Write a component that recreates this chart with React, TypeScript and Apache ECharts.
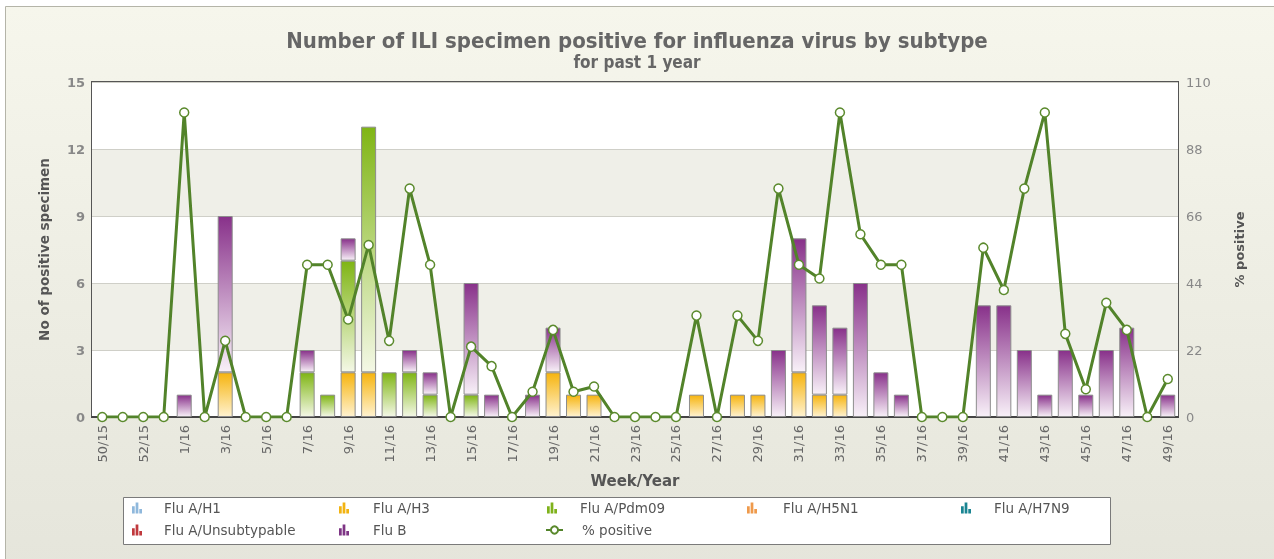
import React, { useEffect, useRef } from "react";
import * as echarts from "echarts";

const weeks = [
  "50/15", "51/15", "52/15", "53/15",
  "1/16", "2/16", "3/16", "4/16", "5/16", "6/16", "7/16", "8/16", "9/16", "10/16",
  "11/16", "12/16", "13/16", "14/16", "15/16", "16/16", "17/16", "18/16", "19/16", "20/16",
  "21/16", "22/16", "23/16", "24/16", "25/16", "26/16", "27/16", "28/16", "29/16", "30/16",
  "31/16", "32/16", "33/16", "34/16", "35/16", "36/16", "37/16", "38/16", "39/16", "40/16",
  "41/16", "42/16", "43/16", "44/16", "45/16", "46/16", "47/16", "48/16", "49/16",
];

const fluH1 = [
  0, 0, 0, 0, 0, 0, 0, 0, 0, 0, 0, 0, 0, 0, 0, 0, 0, 0, 0, 0, 0, 0, 0, 0, 0, 0, 0,
  0, 0, 0, 0, 0, 0, 0, 0, 0, 0, 0, 0, 0, 0, 0, 0, 0, 0, 0, 0, 0, 0, 0, 0, 0, 0,
];
const fluH3 = [
  0, 0, 0, 0, 0, 0, 2, 0, 0, 0, 0, 0, 2, 2, 0, 0, 0, 0, 0, 0, 0, 0, 2, 1, 1, 0, 0,
  0, 0, 1, 0, 1, 1, 0, 2, 1, 1, 0, 0, 0, 0, 0, 0, 0, 0, 0, 0, 0, 0, 0, 0, 0, 0,
];
const fluPdm09 = [
  0, 0, 0, 0, 0, 0, 0, 0, 0, 0, 2, 1, 5, 11, 2, 2, 1, 0, 1, 0, 0, 0, 0, 0, 0, 0, 0,
  0, 0, 0, 0, 0, 0, 0, 0, 0, 0, 0, 0, 0, 0, 0, 0, 0, 0, 0, 0, 0, 0, 0, 0, 0, 0,
];
const fluH5N1 = [
  0, 0, 0, 0, 0, 0, 0, 0, 0, 0, 0, 0, 0, 0, 0, 0, 0, 0, 0, 0, 0, 0, 0, 0, 0, 0, 0,
  0, 0, 0, 0, 0, 0, 0, 0, 0, 0, 0, 0, 0, 0, 0, 0, 0, 0, 0, 0, 0, 0, 0, 0, 0, 0,
];
const fluH7N9 = [
  0, 0, 0, 0, 0, 0, 0, 0, 0, 0, 0, 0, 0, 0, 0, 0, 0, 0, 0, 0, 0, 0, 0, 0, 0, 0, 0,
  0, 0, 0, 0, 0, 0, 0, 0, 0, 0, 0, 0, 0, 0, 0, 0, 0, 0, 0, 0, 0, 0, 0, 0, 0, 0,
];
const fluUnsub = [
  0, 0, 0, 0, 0, 0, 0, 0, 0, 0, 0, 0, 0, 0, 0, 0, 0, 0, 0, 0, 0, 0, 0, 0, 0, 0, 0,
  0, 0, 0, 0, 0, 0, 0, 0, 0, 0, 0, 0, 0, 0, 0, 0, 0, 0, 0, 0, 0, 0, 0, 0, 0, 0,
];
const fluB = [
  0, 0, 0, 0, 1, 0, 7, 0, 0, 0, 1, 0, 1, 0, 0, 1, 1, 0, 5, 1, 0, 1, 2, 0, 0, 0, 0,
  0, 0, 0, 0, 0, 0, 3, 6, 4, 3, 6, 2, 1, 0, 0, 0, 5, 5, 3, 1, 3, 1, 3, 4, 0, 1,
];
const pctPositive = [
  0, 0, 0, 0, 100, 0, 25, 0, 0, 0, 50, 50, 32, 56.5, 25, 75, 50, 0, 23.1, 16.7, 0, 8.3,
  28.6, 8.3, 10, 0, 0, 0, 0, 33.3, 0, 33.3, 25, 75, 50, 45.5, 100, 60, 50, 50, 0, 0, 0,
  55.6, 41.7, 75, 100, 27.3, 9.1, 37.5, 28.6, 0, 12.5,
];

const leftTicks = { min: 0, max: 15, interval: 3 };
const rightTicks = { min: 0, max: 110, interval: 22 };

const FONT = "'DejaVu Sans', Verdana, sans-serif";
const TITLE_FONT = "'DejaVu Sans Condensed', 'DejaVu Sans', sans-serif";

function grad(top: string, bottom: string) {
  return new echarts.graphic.LinearGradient(0, 0, 0, 1, [
    { offset: 0, color: top },
    { offset: 1, color: bottom },
  ]);
}

const barSeriesDefs = [
  { name: "Flu A/H1", data: fluH1, top: "#8fb8dc", bottom: "#eef5fb", solid: "#8fb8dc" },
  { name: "Flu A/H3", data: fluH3, top: "#f6b40e", bottom: "#fff2cf", solid: "#f2b311" },
  { name: "Flu A/Pdm09", data: fluPdm09, top: "#7fb514", bottom: "#f4f8e6", solid: "#7fb21b" },
  { name: "Flu A/H5N1", data: fluH5N1, top: "#ef9a4c", bottom: "#fdeedd", solid: "#ef9a4c" },
  { name: "Flu A/H7N9", data: fluH7N9, top: "#1a8592", bottom: "#d8eef0", solid: "#1a8592" },
  { name: "Flu A/Unsubtypable", data: fluUnsub, top: "#c0393d", bottom: "#f8dcdc", solid: "#c0393d" },
  { name: "Flu B", data: fluB, top: "#88318a", bottom: "#f8f0f8", solid: "#7e3585" },
];

const BAR_ICON = "path://M0,4H3V12H0Z M4,0H7V12H4Z M8,7H11V12H8Z";

const legendPos = [
  { name: "Flu A/H1", x: 132, y: 501, pad: 17 },
  { name: "Flu A/H3", x: 339, y: 501, pad: 19 },
  { name: "Flu A/Pdm09", x: 547, y: 501, pad: 18 },
  { name: "Flu A/H5N1", x: 747, y: 501, pad: 21 },
  { name: "Flu A/H7N9", x: 961, y: 501, pad: 18 },
  { name: "Flu A/Unsubtypable", x: 132, y: 523, pad: 17 },
  { name: "Flu B", x: 339, y: 523, pad: 19 },
];

export default function App() {
  const ref = useRef<HTMLDivElement>(null);

  useEffect(() => {
    if (!ref.current) return;
    const chart = echarts.init(ref.current, undefined, { renderer: "svg" });

    const barSeries = barSeriesDefs.map((d) => ({
      name: d.name,
      type: "bar",
      stack: "flu",
      yAxisIndex: 0,
      barWidth: 15,
      data: d.data.map((v) => (v === 0 ? null : v)),
      itemStyle: {
        color: grad(d.top, d.bottom),
        borderColor: "#8c8c8c",
        borderWidth: 1,
      },
      z: 2,
    }));

    const legends: any[] = legendPos.map((p) => {
      const def = barSeriesDefs.find((d) => d.name === p.name)!;
      return {
        left: p.x,
        top: p.y,
        padding: 0,
        itemWidth: 10,
        itemHeight: 11,
        itemGap: 0,
        icon: BAR_ICON,
        selectedMode: false,
        textStyle: { fontFamily: FONT, fontSize: 13.5, color: "#555", padding: [0, 0, 0, p.pad] },
        data: [{ name: p.name, icon: BAR_ICON, itemStyle: { color: def.solid, borderWidth: 0 } }],
      };
    });
    legends.push({
      left: 545,
      top: 523,
      padding: 0,
      itemWidth: 17,
      itemHeight: 9,
      itemGap: 0,
      selectedMode: false,
      textStyle: { fontFamily: FONT, fontSize: 13.5, color: "#555", padding: [0, 0, 0, 14] },
      data: [{ name: "% positive" }],
    });

    chart.setOption({
      animation: false,
      graphic: [
        {
          type: "rect",
          z: -100,
          silent: true,
          shape: { x: 5.5, y: 6.5, width: 1300, height: 600 },
          style: {
            fill: new echarts.graphic.LinearGradient(0, 0, 0, 1, [
              { offset: 0, color: "#f6f6ec" },
              { offset: 1, color: "#e4e4da" },
            ]),
            stroke: "#b4b4a8",
            lineWidth: 1,
          },
        },
        {
          type: "rect",
          z: 1,
          silent: true,
          shape: { x: 123.5, y: 497.5, width: 987, height: 47 },
          style: { fill: "#ffffff", stroke: "#7a7a7a", lineWidth: 1 },
        },
      ],
      title: [
        {
          text: "Number of ILI specimen positive for influenza virus by subtype",
          left: "center",
          top: 29,
          padding: 0,
          textStyle: { fontFamily: TITLE_FONT, fontWeight: "bold", fontSize: 22, color: "#666" },
        },
        {
          text: "for past 1 year",
          left: "center",
          top: 53,
          padding: 0,
          textStyle: { fontFamily: TITLE_FONT, fontWeight: "bold", fontSize: 17, color: "#666" },
        },
      ],
      legend: legends,
      grid: {
        left: 92,
        right: 96,
        top: 82,
        bottom: 142,
        show: true,
        backgroundColor: "#ffffff",
        borderColor: "#555",
        borderWidth: 2,
        z: 0,
      },
      xAxis: {
        type: "category",
        data: weeks,
        boundaryGap: true,
        name: "Week/Year",
        nameLocation: "middle",
        nameGap: 56,
        nameTextStyle: { fontFamily: FONT, fontWeight: "bold", fontSize: 15, color: "#555" },
        axisLine: { show: true, lineStyle: { color: "#444", width: 2 } },
        axisTick: { show: false },
        axisLabel: {
          interval: 1,
          rotate: 90,
          margin: 8,
          fontFamily: FONT,
          fontSize: 13,
          color: "#666",
        },
        splitLine: { show: false },
      },
      yAxis: [
        {
          type: "value",
          min: leftTicks.min,
          max: leftTicks.max,
          interval: leftTicks.interval,
          name: "No of positive specimen",
          nameLocation: "middle",
          nameGap: 41,
          nameRotate: 90,
          nameTextStyle: { fontFamily: FONT, fontWeight: "bold", fontSize: 13.5, color: "#555" },
          axisLine: { show: false },
          axisTick: { show: false },
          axisLabel: { fontFamily: FONT, fontSize: 13, fontWeight: "bold", color: "#888", margin: 7 },
          splitLine: { show: true, lineStyle: { color: "#cfcfc8", width: 1 } },
          splitArea: { show: true, areaStyle: { color: ["#ffffff", "#efefe8"] } },
        },
        {
          type: "value",
          min: rightTicks.min,
          max: rightTicks.max,
          interval: rightTicks.interval,
          name: "% positive",
          nameLocation: "middle",
          nameGap: 55,
          nameRotate: 90,
          nameTextStyle: { fontFamily: FONT, fontWeight: "bold", fontSize: 13, color: "#555" },
          axisLine: { show: false },
          axisTick: { show: false },
          axisLabel: { fontFamily: FONT, fontSize: 13, color: "#888", margin: 8 },
          splitLine: { show: false },
        },
      ],
      series: [
        ...barSeries,
        {
          name: "% positive",
          type: "line",
          yAxisIndex: 1,
          data: pctPositive,
          symbol: "circle",
          symbolSize: 9,
          showAllSymbol: true,
          lineStyle: { color: "#52832a", width: 3 },
          itemStyle: { color: "#ffffff", borderColor: "#5b8a2d", borderWidth: 1.5 },
          z: 5,
        },
      ],
    });

    return () => chart.dispose();
  }, []);

  return (
    <div
      ref={ref}
      style={{ position: "fixed", left: 0, top: 0, width: 1274, height: 559 }}
    />
  );
}
